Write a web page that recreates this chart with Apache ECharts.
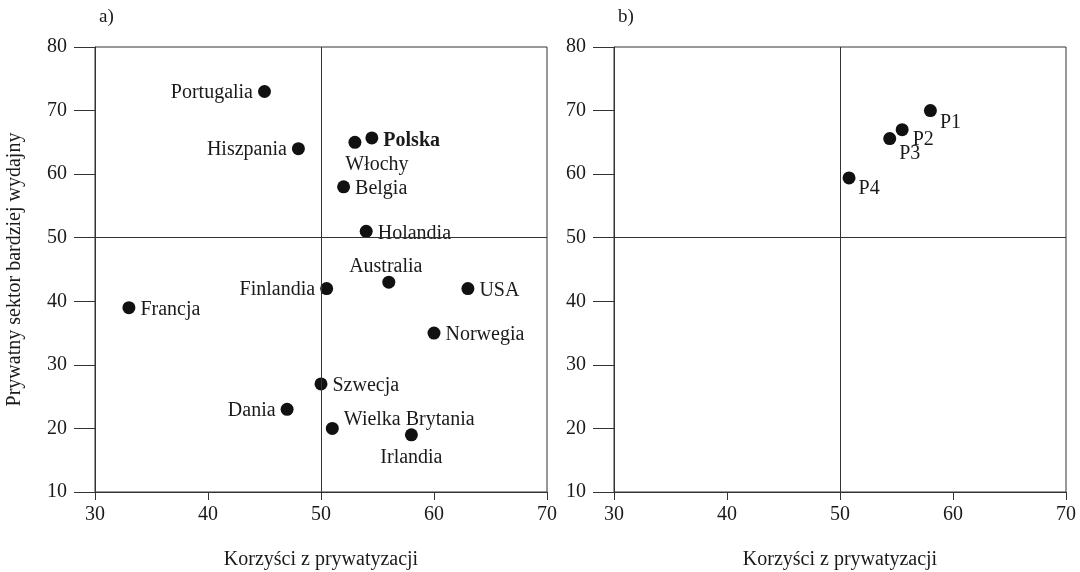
<!DOCTYPE html>
<html>
<head>
<meta charset="utf-8">
<script src="https://cdn.jsdelivr.net/npm/echarts@6/dist/echarts.min.js"></script>
<style>html,body{margin:0;padding:0;background:#fff}#c{width:1080px;height:572px}</style>
</head>
<body>
<div id="c"></div>
<script>
// Panel a) countries
const countries = ['Portugalia','Hiszpania','Włochy','Polska','Belgia','Holandia','Australia','Finlandia','USA','Francja','Norwegia','Szwecja','Dania','Wielka Brytania','Irlandia'];
const benefitsA = [45, 48, 53, 54.5, 52, 54, 56, 50.5, 63, 33, 60, 50, 47, 51, 58];
const efficiencyA = [73, 64, 65, 65.7, 58, 51, 43, 42, 42, 39, 35, 27, 23, 20, 19];
// Panel b) points
const pointsB = ['P1','P2','P3','P4'];
const benefitsB = [58, 55.5, 54.4, 50.8];
const efficiencyB = [70, 67, 65.6, 59.4];
const xTicks = [30, 40, 50, 60, 70];
const yTicks = [10, 20, 30, 40, 50, 60, 70, 80];

// label placement (style only)
const labelA = {
  'Portugalia': {position:'left', offset:[0,1]},
  'Hiszpania': {position:'left', offset:[0,1]},
  'Włochy': {position:'bottom', offset:[22,1]},
  'Polska': {position:'right', offset:[0,3], fontWeight:'bold'},
  'Belgia': {position:'right', offset:[0,2]},
  'Holandia': {position:'right', offset:[0,2]},
  'Australia': {position:'top', offset:[-3,6]},
  'Finlandia': {position:'left', offset:[0,1]},
  'USA': {position:'right', offset:[0,2]},
  'Francja': {position:'right', offset:[0,2]},
  'Norwegia': {position:'right', offset:[0,2]},
  'Szwecja': {position:'right', offset:[0,2]},
  'Dania': {position:'left', offset:[0,1]},
  'Wielka Brytania': {position:'right', offset:[0,-9]},
  'Irlandia': {position:'bottom', offset:[0,1]}
};
const labelB = {
  'P1': {position:'right', offset:[-2,12]},
  'P2': {position:'right', offset:[-1,10]},
  'P3': {position:'right', offset:[-2,15]},
  'P4': {position:'right', offset:[-2,11]}
};

const FONT = '"Liberation Serif", "DejaVu Serif", serif';
const TXT = '#1a1a1a';
const LINE = '#333';

function xAxis(gi) {
  return {
    type:'value', gridIndex:gi, min:30, max:70, interval:10,
    name:'Korzyści z prywatyzacji', nameLocation:'middle', nameGap:58,
    nameTextStyle:{fontFamily:FONT, fontSize:20, color:TXT},
    axisLine:{show:true, lineStyle:{color:LINE}},
    axisTick:{show:true, length:8, lineStyle:{color:LINE}},
    axisLabel:{fontFamily:FONT, fontSize:20, color:TXT, margin:13},
    splitLine:{show:false}
  };
}
function yAxis(gi, withName) {
  const a = {
    type:'value', gridIndex:gi, min:10, max:80, interval:10,
    axisLine:{show:true, lineStyle:{color:LINE}},
    axisTick:{show:true, length:21, lineStyle:{color:LINE}},
    axisLabel:{fontFamily:FONT, fontSize:20, color:TXT, margin:28},
    splitLine:{show:false}
  };
  if (withName) {
    a.name = 'Prywatny sektor bardziej wydajny';
    a.nameLocation = 'middle';
    a.nameGap = 70;
    a.nameTextStyle = {fontFamily:FONT, fontSize:20, color:TXT};
  }
  return a;
}
function cross() {
  return {
    silent:true, symbol:'none', label:{show:false},
    lineStyle:{color:LINE, type:'solid', width:1},
    data:[{xAxis:50},{yAxis:50}]
  };
}
function mkData(names, xs, ys, lab) {
  return names.map((n,i)=>{
    const l = lab[n];
    return {
      name:n, value:[xs[i], ys[i]],
      label:{show:true, position:l.position, offset:l.offset, distance:5,
        fontWeight:l.fontWeight||'normal'}
    };
  });
}

const chart = echarts.init(document.getElementById('c'), null, {renderer:'canvas'});
chart.setOption({
  backgroundColor:'#fff',
  animation:false,
  title:[
    {text:'a)', left:94, top:3, textStyle:{fontFamily:FONT, fontSize:19, fontWeight:'normal', color:TXT}},
    {text:'b)', left:613, top:3, textStyle:{fontFamily:FONT, fontSize:19, fontWeight:'normal', color:TXT}}
  ],
  grid:[
    {left:95, right:533, top:47, bottom:80, show:true, borderColor:LINE, borderWidth:1, containLabel:false, outerBoundsMode:'none'},
    {left:614, right:14, top:47, bottom:80, show:true, borderColor:LINE, borderWidth:1, containLabel:false, outerBoundsMode:'none'}
  ],
  xAxis:[xAxis(0), xAxis(1)],
  yAxis:[yAxis(0,true), yAxis(1,false)],
  series:[
    {
      type:'scatter', xAxisIndex:0, yAxisIndex:0, symbolSize:13,
      itemStyle:{color:'#111', opacity:1},
      label:{formatter:'{b}', fontFamily:FONT, fontSize:20, color:TXT},
      data:mkData(countries, benefitsA, efficiencyA, labelA),
      markLine:cross()
    },
    {
      type:'scatter', xAxisIndex:1, yAxisIndex:1, symbolSize:13,
      itemStyle:{color:'#111', opacity:1},
      label:{formatter:'{b}', fontFamily:FONT, fontSize:20, color:TXT},
      data:mkData(pointsB, benefitsB, efficiencyB, labelB),
      markLine:cross()
    }
  ]
});
</script>
</body>
</html>
